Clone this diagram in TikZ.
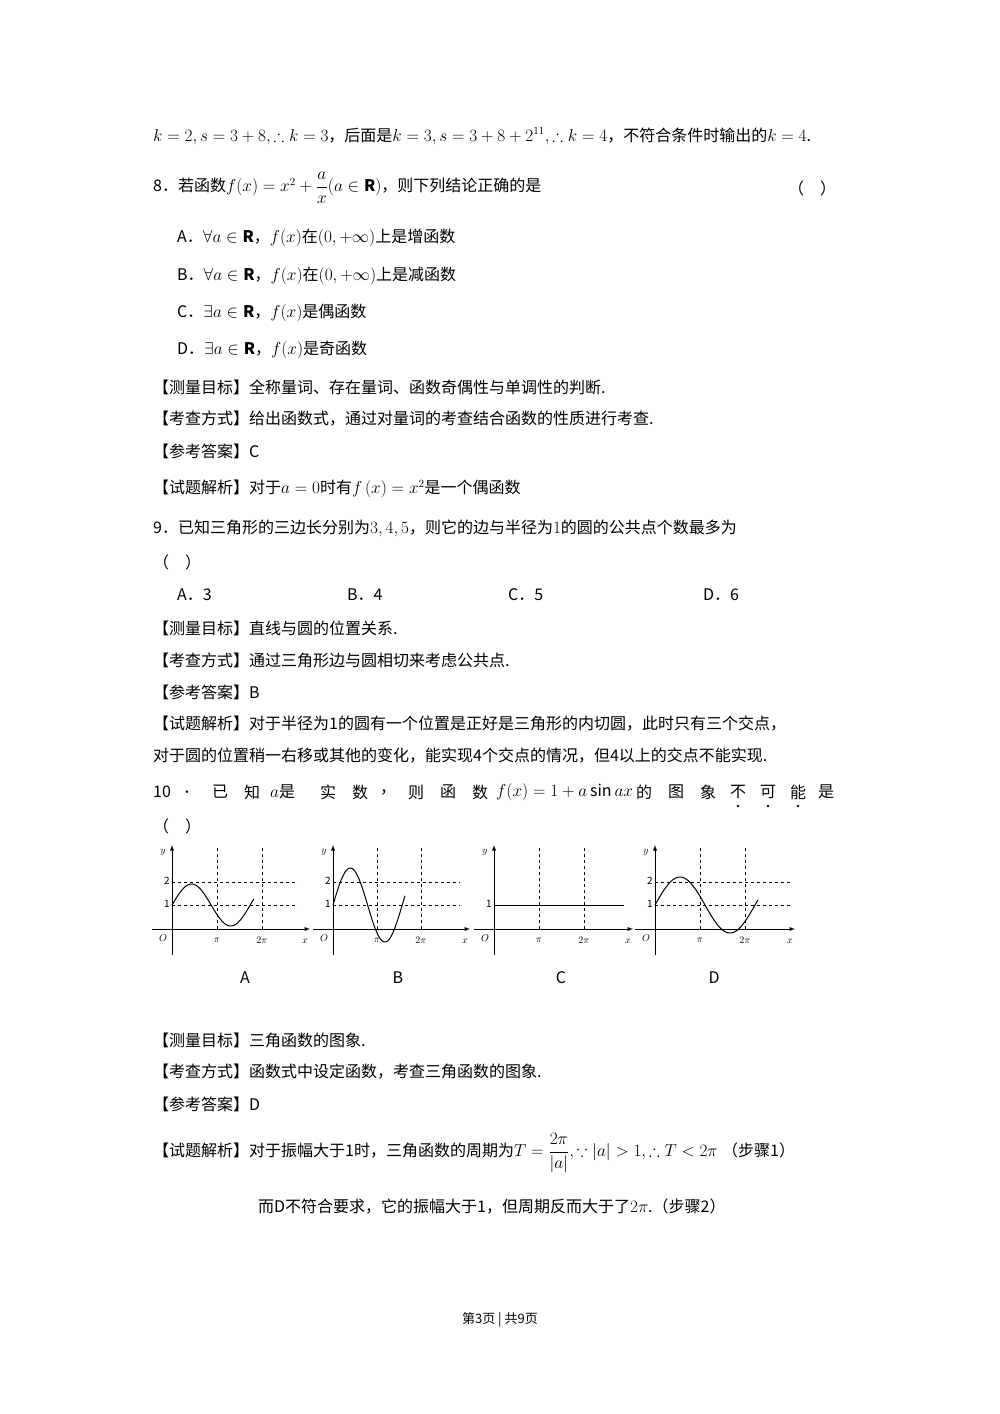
\documentclass[tikz,border=0pt]{standalone}
\usepackage{fontspec}
\usepackage{amsmath,amssymb}
\setmainfont{Noto Sans CJK SC}
\begin{document}
\begin{tikzpicture}[x=1pt,y=-1pt,
  t/.style={anchor=west,inner sep=0pt,font=\fontsize{16}{19}\selectfont},
  lab/.style={inner sep=0pt,font=\fontsize{10}{12}\selectfont},
  dsh/.style={dashed,line width=0.7pt},
  ax/.style={line width=0.9pt,-latex},
  crv/.style={line width=1pt}]
\useasboundingbox[fill=white] (0,0) rectangle (1000,1414);
\node[t] (l1) at (153,136) {$k=2,s=3+8,\therefore k=3$，后面是$k=3,s=3+8+2^{11},\therefore k=4$，不符合条件时输出的$k=4$.};
\node[t] (l2) at (153,188) {8．若函数$f(x)=x^2+\dfrac{a}{x}(a\in\mathbf{R})$，则下列结论正确的是};
\node[t] (p2) at (788,188) {（\quad）};
\node[t] (o1) at (177,238) {A．$\forall a\in\mathbf{R}$，$f(x)$在$(0,+\infty)$上是增函数};
\node[t] (o2) at (177,276) {B．$\forall a\in\mathbf{R}$，$f(x)$在$(0,+\infty)$上是减函数};
\node[t] (o3) at (177,313) {C．$\exists a\in\mathbf{R}$，$f(x)$是偶函数};
\node[t] (o4) at (177,350) {D．$\exists a\in\mathbf{R}$，$f(x)$是奇函数};
\node[t] (m1) at (153,387) {【测量目标】全称量词、存在量词、函数奇偶性与单调性的判断.};
\node[t] (m2) at (153,419) {【考查方式】给出函数式，通过对量词的考查结合函数的性质进行考查.};
\node[t] (m3) at (153,451) {【参考答案】C};
\node[t] (m4) at (153,489) {【试题解析】对于$a=0$时有$f\left(x\right)=x^2$是一个偶函数};
\node[t] (q9) at (153,528) {9．已知三角形的三边长分别为$3,4,5$，则它的边与半径为$1$的圆的公共点个数最多为};
\node[t] (q9p) at (153,562) {（\quad）};
\node[t] (a9) at (177,595) {A．3};
\node[t] (b9) at (347,595) {B．4};
\node[t] (c9) at (508,595) {C．5};
\node[t] (d9) at (703,595) {D．6};
\node[t] (n1) at (153,628) {【测量目标】直线与圆的位置关系.};
\node[t] (n2) at (153,660) {【考查方式】通过三角形边与圆相切来考虑公共点.};
\node[t] (n3) at (153,692) {【参考答案】B};
\node[t] (n4) at (153,724) {【试题解析】对于半径为1的圆有一个位置是正好是三角形的内切圆，此时只有三个交点，};
\node[t] (n5) at (153,756) {对于圆的位置稍一右移或其他的变化，能实现4个交点的情况，但4以上的交点不能实现.};
\foreach \s/\xx [count=\i] in {10/153,．/183,已/212,知/244,$a$是/270,实/320,数/352,，/380,则/408,函/440,数/472,{$f(x)=1+a\sin ax$}/496,的/636,图/668,象/700}
  \node[t] (w\i) at (\xx,792) {\s};
\foreach \s/\xx [count=\i] in {不/730,可/760,能/790}{
  \node[t] (u\i) at (\xx,792) {\s};
  \fill (\xx+8,806) circle (1.3);}
\node[t] (shi) at (818,792) {是};
\node[t] (q10p) at (153,826) {（\quad）};
% graphs
\newcommand{\graphaxes}[4]{% #1 x origin, #2 pi px, #3 x end, #4 dashed right end
  \draw[ax] (#1-20,929) -- (#3,929);
  \draw[ax] (#1,955) -- (#1,845);
  \draw[dsh] (#1+#2,848) -- (#1+#2,929);
  \draw[dsh] (#1+2*#2,848) -- (#1+2*#2,929);
  \node[lab] at (#1-9,938) {$O$};
  \node[lab] at (#1+#2,940) {$\pi$};
  \node[lab] at (#1+2*#2,940) {$2\pi$};
  \node[lab] at (#3-5,941) {$x$};
  \node[lab] at (#1-9,852) {$y$};
  \node[lab] at (#1-5,904) {1};}
% A
\graphaxes{172}{45}{310}{298}
\draw[dsh] (172,905) -- (298,905);
\draw[dsh] (172,882) -- (298,882);
\node[lab] at (167,881) {2};
\draw[crv,domain=0:82,samples=60,variable=\t] plot ({172+\t},{905-21*sin(\t*4.6)});
\node[t,anchor=center] (LA) at (245,978) {A};
% B
\graphaxes{333}{44}{470}{460}
\draw[dsh] (333,905) -- (460,905);
\draw[dsh] (333,882) -- (460,882);
\node[lab] at (328,881) {2};
\draw[crv,domain=0:72,samples=60,variable=\t] plot ({333+\t},{905-37*sin(\t*5.2)});
\node[t,anchor=center] (LB) at (398,978) {B};
% C
\graphaxes{494}{45}{633}{633}
\draw[crv] (494,905) -- (624,905);
\node[t,anchor=center] (LC) at (561,978) {C};
% D
\graphaxes{655}{45}{795}{790}
\draw[dsh] (655,905) -- (790,905);
\draw[dsh] (655,882) -- (790,882);
\node[lab] at (650,881) {2};
\draw[crv,domain=0:103,samples=60,variable=\t] plot ({655+\t},{905-28*sin(\t*3.6)});
\node[t,anchor=center] (LD) at (714,978) {D};
\node[t] (r1) at (153,1040) {【测量目标】三角函数的图象.};
\node[t] (r2) at (153,1072) {【考查方式】函数式中设定函数，考查三角函数的图象.};
\node[t] (r3) at (153,1104) {【参考答案】D};
\node[t] (r4) at (153,1153) {【试题解析】对于振幅大于1时，三角函数的周期为$T=\dfrac{2\pi}{|a|},\because|a|>1,\therefore T<2\pi$\;（步骤1）};
\node[t] (r5) at (258,1206) {而D不符合要求，它的振幅大于1，但周期反而大于了$2\pi$.（步骤2）};
\node[inner sep=0pt,font=\fontsize{13}{15}\selectfont] (pg) at (500,1320) {第3页 | 共9页};
\end{tikzpicture}
\end{document}
